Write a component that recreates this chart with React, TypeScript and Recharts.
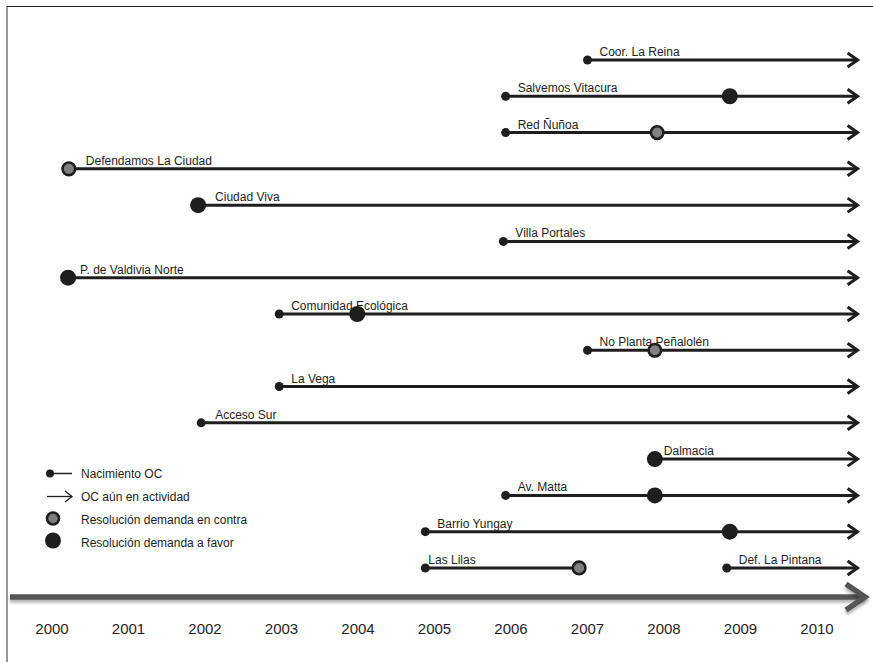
import React from "react"
import { ScatterChart, Scatter, XAxis, YAxis, ReferenceLine, Legend } from "recharts"

// organizations, one per line on the timeline (Las Lilas and Def. La Pintana share a row)
const orgNames = [
  "Coor. La Reina",
  "Salvemos Vitacura",
  "Red Ñuñoa",
  "Defendamos La Ciudad",
  "Ciudad Viva",
  "Villa Portales",
  "P. de Valdivia Norte",
  "Comunidad Ecológica",
  "No Planta Peñalolén",
  "La Vega",
  "Acceso Sur",
  "Dalmacia",
  "Av. Matta",
  "Barrio Yungay",
  "Las Lilas",
  "Def. La Pintana",
]
const orgRow = [0, 1, 2, 3, 4, 5, 6, 7, 8, 9, 10, 11, 12, 13, 14, 14]

// year of birth of the OC (null when the line starts at the resolution)
const birthYear = [
  2007.0, 2005.93, 2005.93, null, null, 2005.9, null, 2002.97,
  2007.0, 2002.97, 2001.95, null, 2005.93, 2004.88, 2004.88, 2008.82,
]
// year of the court resolution
const resolutionYear = [
  null, 2008.86, 2007.91, 2000.22, 2001.91, null, 2000.21, 2003.99,
  2007.88, null, null, 2007.88, 2007.88, 2008.86, 2006.89, null,
]
const resolutionType = [
  null, "favor", "contra", "contra", "favor", null, "favor", "favor",
  "contra", null, null, "favor", "favor", "favor", "contra", null,
]
const stillActive = [
  true, true, true, true, true, true, true, true,
  true, true, true, true, true, true, false, true,
]
const ACTIVE_END = 2010.53

const years = [2000, 2001, 2002, 2003, 2004, 2005, 2006, 2007, 2008, 2009, 2010]

const X_MIN = 1999.451
const X_MAX = 2010.627
const Y_MIN = -1.5
const Y_MAX = 14.8

const INK = "#1e1e1e"
const GRAY = "#808080"
const FONT = "'Liberation Sans', Arial, sans-serif"

// label nudges (px) relative to the start mark
const labelOffset: Record<string, number> = {
  "Las Lilas": 3,
  "Defendamos La Ciudad": 17,
  "Ciudad Viva": 17,
  "Dalmacia": 9,
  "Acceso Sur": 14,
}

const segments = orgNames.map((name, i) => {
  const start = birthYear[i] ?? resolutionYear[i]
  const end = stillActive[i] ? ACTIVE_END : resolutionYear[i]
  return { name, row: orgRow[i], start: start as number, end: end as number }
})
const labelPoints = segments.map((s) => ({ x: s.start, y: s.row, name: s.name }))
const birthPoints = orgNames
  .map((_, i) => ({ x: birthYear[i], y: orgRow[i] }))
  .filter((p) => p.x != null)
const contraPoints = orgNames
  .map((_, i) => ({ x: resolutionYear[i], y: orgRow[i], t: resolutionType[i] }))
  .filter((p) => p.t === "contra")
const favorPoints = orgNames
  .map((_, i) => ({ x: resolutionYear[i], y: orgRow[i], t: resolutionType[i] }))
  .filter((p) => p.t === "favor")
const arrowPoints = orgNames
  .map((_, i) => ({ x: ACTIVE_END, y: orgRow[i], on: stillActive[i] }))
  .filter((p) => p.on)

const LabelShape = (props: any) => {
  const { cx, cy, payload } = props
  const off = labelOffset[payload.name] ?? 12
  return (
    <text x={cx + off} y={cy - 4} fontSize={12} fontFamily={FONT} fill={INK}>
      {payload.name}
    </text>
  )
}

const BirthShape = ({ cx, cy }: any) => <circle cx={cx} cy={cy} r={4.5} fill={INK} />
const ContraShape = ({ cx, cy }: any) => (
  <circle cx={cx} cy={cy} r={6.3} fill={GRAY} stroke={INK} strokeWidth={2.6} />
)
const FavorShape = ({ cx, cy }: any) => <circle cx={cx} cy={cy} r={8} fill={INK} />
const ArrowShape = ({ cx, cy }: any) => (
  <polyline
    points={`${cx - 10},${cy - 7} ${cx},${cy} ${cx - 10},${cy + 7}`}
    fill="none"
    stroke={INK}
    strokeWidth={3}
  />
)
const AxisArrowShape = ({ cx, cy }: any) => (
  <polyline
    points={`${cx - 19},${cy - 13} ${cx},${cy} ${cx - 19},${cy + 13}`}
    fill="none"
    stroke="#555"
    strokeWidth={5.5}
    filter="url(#axisShadow)"
  />
)

const legendItems = [
  { key: "birth", label: "Nacimiento OC" },
  { key: "active", label: "OC aún en actividad" },
  { key: "contra", label: "Resolución demanda en contra" },
  { key: "favor", label: "Resolución demanda a favor" },
]

const LegendIcon = ({ kind }: { kind: string }) => (
  <svg width={39} height={23} style={{ display: "block", flex: "none" }}>
    {kind === "birth" && (
      <g>
        <circle cx={8} cy={11.5} r={4} fill={INK} />
        <line x1={8} y1={11.5} x2={30} y2={11.5} stroke={INK} strokeWidth={1.5} />
      </g>
    )}
    {kind === "active" && (
      <g fill="none" stroke={INK} strokeWidth={1.3}>
        <line x1={5} y1={11.5} x2={30} y2={11.5} />
        <polyline points="23,6 30,11.5 23,17" />
      </g>
    )}
    {kind === "contra" && <circle cx={11} cy={10.5} r={6} fill={GRAY} stroke={INK} strokeWidth={2.6} />}
    {kind === "favor" && <circle cx={11} cy={9.5} r={8} fill={INK} />}
  </svg>
)

const renderLegend = () => (
  <div style={{ fontFamily: FONT, fontSize: 12, color: INK }}>
    {legendItems.map((it) => (
      <div key={it.key} style={{ display: "flex", alignItems: "center", height: 23 }}>
        <LegendIcon kind={it.key} />
        <span>{it.label}</span>
      </div>
    ))}
  </div>
)

export default function App() {
  return (
    <div style={{ position: "absolute", left: 0, top: 0, width: 873, height: 662, background: "#fff" }}>
      <div
        style={{
          position: "absolute",
          left: 6,
          top: 6,
          right: 0,
          bottom: 0,
          borderTop: `1.5px solid ${INK}`,
          borderLeft: "2px solid #999",
        }}
      />
      <ScatterChart width={873} height={662} margin={{ top: 5.57, right: 8, bottom: 0, left: 10 }}>
        <defs>
          <filter id="axisShadow" filterUnits="userSpaceOnUse" x={0} y={0} width={873} height={662}>
            <feDropShadow dx="0" dy="3" stdDeviation="1.5" floodColor="#000" floodOpacity="0.3" />
          </filter>
        </defs>
        <XAxis
          type="number"
          dataKey="x"
          domain={[X_MIN, X_MAX]}
          ticks={years}
          interval={0}
          height={65}
          tickSize={0}
          tickMargin={26}
          tickLine={false}
          axisLine={{ stroke: "#555", strokeWidth: 5.5, filter: "url(#axisShadow)" }}
          tick={{ fill: INK, fontSize: 15, fontFamily: FONT }}
        />
        <YAxis type="number" dataKey="y" domain={[Y_MIN, Y_MAX]} reversed hide />
        <Legend
          layout="horizontal"
          verticalAlign="middle"
          align="center"
          content={renderLegend}
          wrapperStyle={{ left: 42, top: 462, width: 260, height: 92 }}
        />
        <Scatter data={labelPoints} shape={LabelShape} isAnimationActive={false} />
        {segments.map((s) => (
          <ReferenceLine
            key={s.name}
            segment={[
              { x: s.start, y: s.row },
              { x: s.end, y: s.row },
            ]}
            stroke={INK}
            strokeWidth={3}
          />
        ))}
        <Scatter data={arrowPoints} shape={ArrowShape} isAnimationActive={false} />
        <Scatter data={birthPoints} shape={BirthShape} isAnimationActive={false} />
        <Scatter data={contraPoints} shape={ContraShape} isAnimationActive={false} />
        <Scatter data={favorPoints} shape={FavorShape} isAnimationActive={false} />
        <Scatter data={[{ x: X_MAX, y: Y_MAX }]} shape={AxisArrowShape} isAnimationActive={false} />
      </ScatterChart>
    </div>
  )
}
